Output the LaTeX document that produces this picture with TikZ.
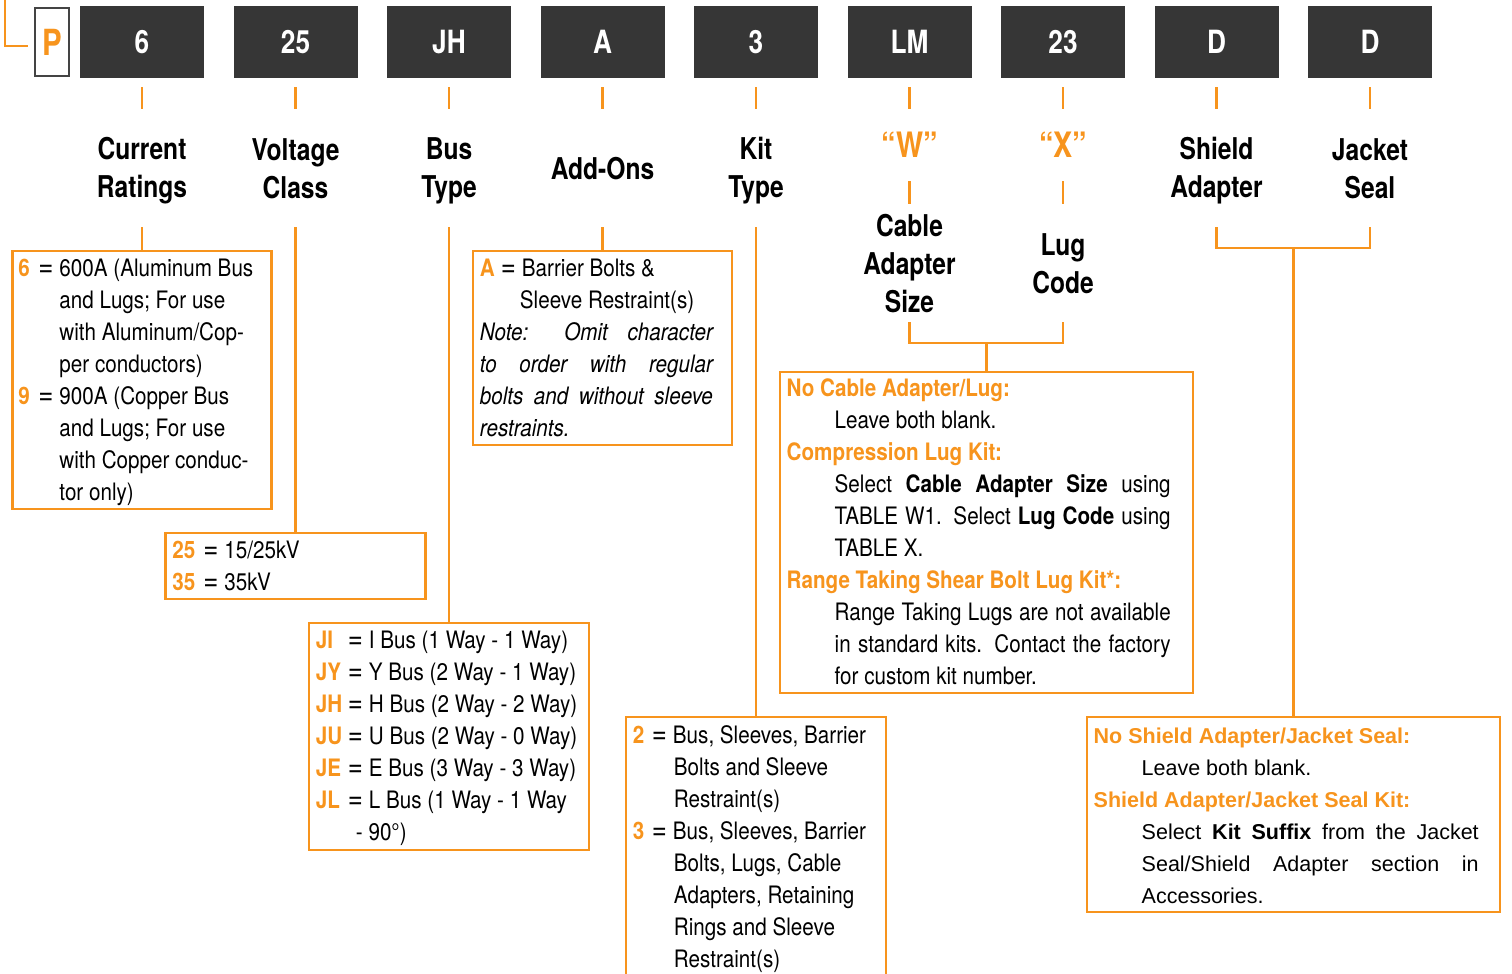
\documentclass[tikz,border=0pt]{standalone}
\usepackage{fontspec}
\setmainfont{TeX Gyre Heros}[FakeStretch=0.86]
\newfontfamily\headfam{TeX Gyre Heros}[FakeStretch=0.82]
\newfontfamily\arialfam{Liberation Sans}
\usetikzlibrary{positioning,calc}
\definecolor{SelOrange}{HTML}{F7941D}
\definecolor{CodeGray}{HTML}{363636}
\definecolor{FrameGray}{HTML}{444444}

\newcommand{\txtfont}{\fontsize{24}{32}\selectfont}
\newcommand{\eqsign}{{\fontsize{30}{32}\selectfont =}}
\newcommand{\selopt}[2]{\makebox[#1][l]{\textcolor{SelOrange}{\bfseries #2}}\makebox[21pt][l]{\eqsign}}
\newcommand{\optitle}[1]{\textcolor{SelOrange}{\bfseries #1}}
\newcommand{\hs}{\rule[-5pt]{0pt}{33pt}}

\begin{document}
\begin{tikzpicture}[
    x=1pt, y=-1pt,
    codebox/.style={fill=CodeGray, text=white, font=\headfam\bfseries\fontsize{32}{38}\selectfont, minimum width=124, minimum height=72, inner sep=0},
    headlbl/.style={font=\headfam\bfseries\fontsize{30}{38}\selectfont, align=center, minimum height=118, inner sep=0},
    qlabel/.style={font=\headfam\bfseries\fontsize{35}{40}\selectfont, text=SelOrange, minimum height=72, inner sep=0},
    optbox/.style={draw=SelOrange, line width=2.5pt, inner sep=0},
    txt/.style={font=\txtfont, align=left, anchor=north west, inner sep=0},
    link/.style={draw=SelOrange, line width=2.5pt}
]

  \clip (0,0) rectangle (1512,974);

  % =========================================================================
  % CATALOG NUMBER ROW
  % =========================================================================
  \node[draw=FrameGray, line width=2.5pt, minimum width=34, minimum height=68, inner sep=0, text=SelOrange, font=\headfam\bfseries\fontsize{36}{38}\selectfont] (pbox) at (52,42) {P};
  \coordinate (pstart) at (5,-5);
  \draw[link] (pstart) |- ([xshift=-6pt,yshift=-4pt]pbox.west);

  \node[codebox] (c0) at (142,42) {6};
  \node[codebox] (c1) at (295.5,42) {25};
  \node[codebox] (c2) at (449,42) {JH};
  \node[codebox] (c3) at (602.5,42) {A};
  \node[codebox] (c4) at (756,42) {3};
  \node[codebox] (c5) at (909.5,42) {LM};
  \node[codebox] (c6) at (1063,42) {23};
  \node[codebox] (c7) at (1216.5,42) {D};
  \node[codebox] (c8) at (1370,42) {D};

  % Field titles
  \node[headlbl] (t0) at (142,168) {\hs Current\\\hs Ratings};
  \node[headlbl] (t1) at (295.5,168) {\hs Voltage\\\hs Class};
  \node[headlbl] (t2) at (449,168) {\hs Bus\\\hs Type};
  \node[headlbl] (t3) at (602.5,168) {\hs Add-Ons};
  \node[headlbl] (t4) at (756,168) {\hs Kit\\\hs Type};
  \node[qlabel] (q5) at (909.5,145) {“W”};
  \node[qlabel] (q6) at (1063,145) {“X”};
  \node[headlbl] (t5) at (909.5,263) {\hs Cable\\\hs Adapter\\\hs Size};
  \node[headlbl] (t6) at (1063,263) {\hs Lug\\\hs Code};
  \node[headlbl] (t7) at (1216.5,168) {\hs Shield\\\hs Adapter};
  \node[headlbl] (t8) at (1370,168) {\hs Jacket\\\hs Seal};

  % Ticks
  \draw[link, shorten <=9pt] (c0) -- (t0);
  \draw[link, shorten <=9pt] (c1) -- (t1);
  \draw[link, shorten <=9pt] (c2) -- (t2);
  \draw[link, shorten <=9pt] (c3) -- (t3);
  \draw[link, shorten <=9pt] (c4) -- (t4);
  \draw[link, shorten <=9pt] (c5) -- (q5);
  \draw[link, shorten <=9pt] (c6) -- (q6);
  \draw[link, shorten <=9pt] (c7) -- (t7);
  \draw[link, shorten <=9pt] (c8) -- (t8);
  \draw[link] (q5) -- (t5);
  \draw[link] (q6) -- (t6);

  % =========================================================================
  % OPTION BOXES
  % =========================================================================
  \node[optbox, minimum width=259, minimum height=258] (b0) at (142,380) {};
  \node[optbox, minimum width=260, minimum height=66] (b1) at (295.5,566) {};
  \node[optbox, minimum width=280, minimum height=227] (b2) at (449,736.5) {};
  \node[optbox, minimum width=259, minimum height=194] (b3) at (602.5,348) {};
  \node[optbox, minimum width=260, minimum height=283] (b4) at (756,858.5) {};
  \node[optbox, minimum width=413, minimum height=321] (b5) at (986.25,532.5) {};
  \node[optbox, minimum width=413, minimum height=195] (b6) at (1293.25,814.5) {};

  \draw[link] (t0) -- (b0);
  \draw[link] (t1) -- (b1);
  \draw[link] (t2) -- (b2);
  \draw[link] (t3) -- (b3);
  \draw[link] (t4) -- (b4);

  % Brackets
  \draw[link] (t5.south) -- ++(0,21) -| (t6.south);
  \coordinate (wxjoin) at ($(t5.south)!0.5!(t6.south)+(0,21)$);
  \draw[link] (wxjoin) -- (b5);
  \draw[link] (t7.south) -- ++(0,21) -| (t8.south);
  \coordinate (sjjoin) at ($(t7.south)!0.5!(t8.south)+(0,21)$);
  \draw[link] (sjjoin) -- (b6);

  % Box texts
  \node[txt] (x0) at ($(b0.north west)+(7,4)$) {\strut\selopt{20pt}{6}600A (Aluminum Bus\\
    \hspace*{41pt}and Lugs; For use\\
    \hspace*{41pt}with Aluminum/Cop-\\
    \hspace*{41pt}per conductors)\\
    \selopt{20pt}{9}900A (Copper Bus\\
    \hspace*{41pt}and Lugs; For use\\
    \hspace*{41pt}with Copper conduc-\\
    \hspace*{41pt}tor only)};

  \node[txt] (x1) at ($(b1.north west)+(8,4)$) {\strut\selopt{31pt}{25}15/25kV\\
    \selopt{31pt}{35}35kV};

  \node[txt] (x2) at ($(b2.north west)+(8,4)$) {\strut\selopt{32pt}{JI}I Bus (1 Way - 1 Way)\\
    \selopt{32pt}{JY}Y Bus (2 Way - 1 Way)\\
    \selopt{32pt}{JH}H Bus (2 Way - 2 Way)\\
    \selopt{32pt}{JU}U Bus (2 Way - 0 Way)\\
    \selopt{32pt}{JE}E Bus (3 Way - 3 Way)\\
    \selopt{32pt}{JL}L Bus (1 Way - 1 Way\\
    \hspace*{40pt}- 90°)};

  \node[txt] (x3) at ($(b3.north west)+(8,4)$) {\strut\selopt{21pt}{A}Barrier Bolts \&\\
    \hspace*{40pt}Sleeve Restraint(s)\\
    \makebox[233pt][s]{\itshape Note: Omit character}\\
    \makebox[233pt][s]{\itshape to order with regular}\\
    \makebox[233pt][s]{\itshape bolts and without sleeve}\\
    {\itshape restraints.}};

  \node[txt] (x4) at ($(b4.north west)+(8,5)$) {\strut\selopt{19pt}{2}Bus, Sleeves, Barrier\\
    \hspace*{41pt}Bolts and Sleeve\\
    \hspace*{41pt}Restraint(s)\\
    \selopt{19pt}{3}Bus, Sleeves, Barrier\\
    \hspace*{41pt}Bolts, Lugs, Cable\\
    \hspace*{41pt}Adapters, Retaining\\
    \hspace*{41pt}Rings and Sleeve\\
    \hspace*{41pt}Restraint(s)};

  \node[txt] (x5) at ($(b5.north west)+(8,3)$) {\strut\optitle{No Cable Adapter/Lug:}\\
    \hspace*{48pt}Leave both blank.\\
    \optitle{Compression Lug Kit:}\\
    \hspace*{48pt}\makebox[336pt][s]{Select \textbf{Cable Adapter Size} using}\\
    \hspace*{48pt}\makebox[336pt][s]{TABLE W1. Select \textbf{Lug Code} using}\\
    \hspace*{48pt}TABLE X.\\
    \optitle{Range Taking Shear Bolt Lug Kit*:}\\
    \hspace*{48pt}\makebox[336pt][s]{Range Taking Lugs are not available}\\
    \hspace*{48pt}\makebox[336pt][s]{in standard kits. Contact the factory}\\
    \hspace*{48pt}for custom kit number.};

  \node[txt, font=\arialfam\fontsize{21.5}{32}\selectfont] (x6) at ($(b6.north west)+(8,5)$) {\strut\optitle{No Shield Adapter/Jacket Seal:}\\
    \hspace*{48pt}Leave both blank.\\
    \optitle{Shield Adapter/Jacket Seal Kit:}\\
    \hspace*{48pt}\makebox[337pt][s]{Select \textbf{Kit Suffix} from the Jacket}\\
    \hspace*{48pt}\makebox[337pt][s]{Seal/Shield Adapter section in}\\
    \hspace*{48pt}Accessories.};

\end{tikzpicture}
\end{document}
